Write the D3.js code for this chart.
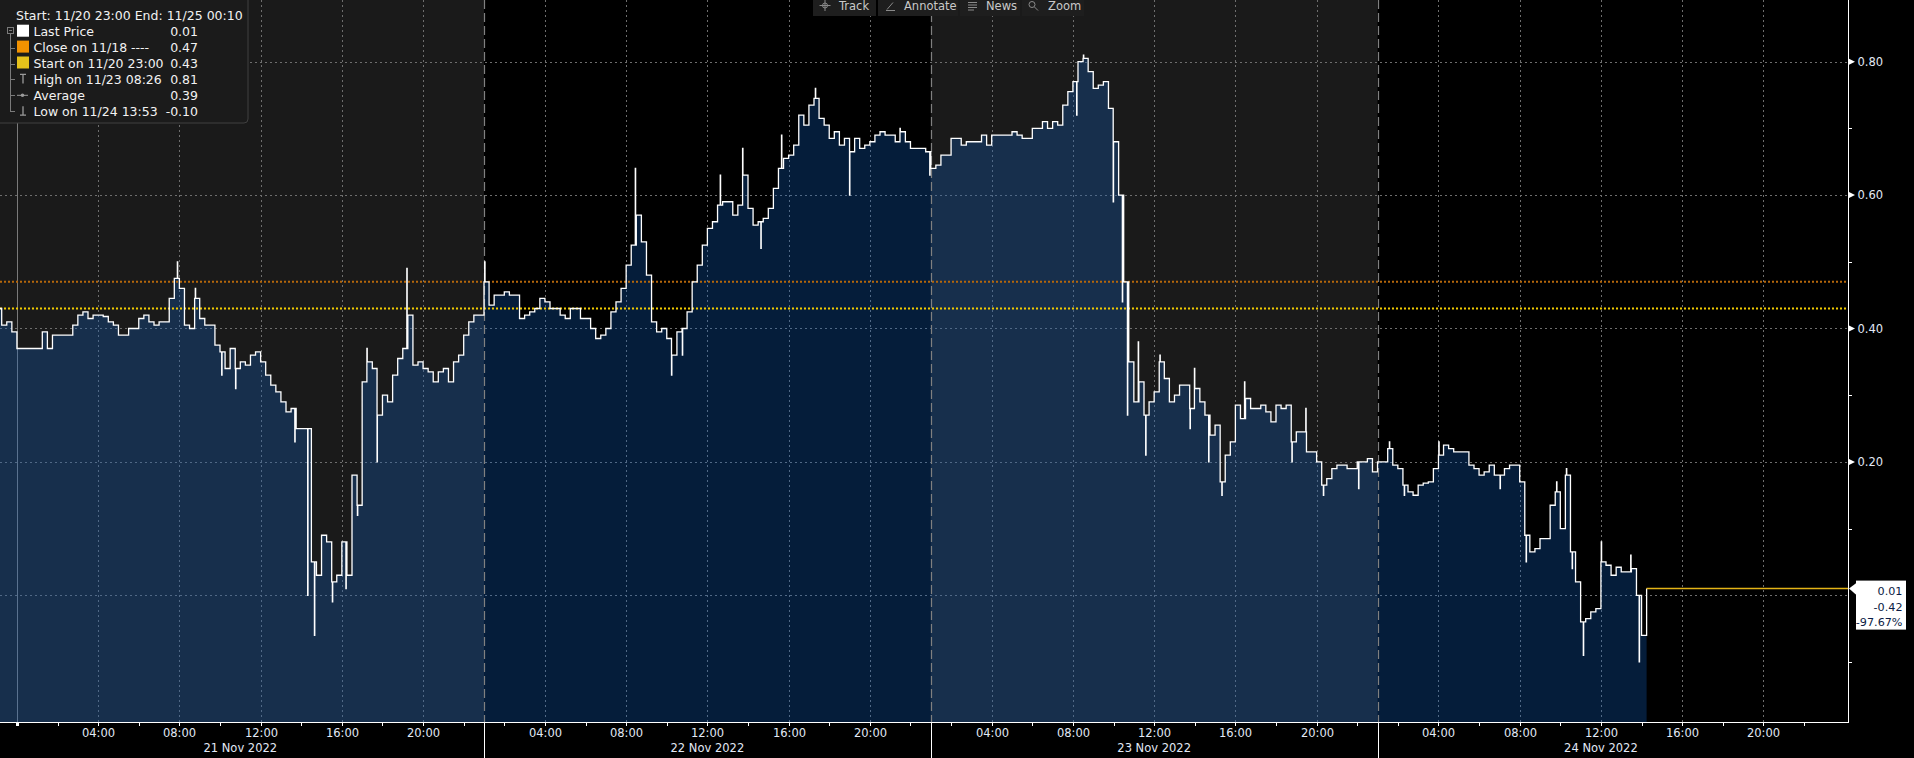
<!DOCTYPE html>
<html>
<head>
<meta charset="utf-8">
<script src="https://cdn.jsdelivr.net/npm/d3@7"></script>
<style>
html,body{margin:0;padding:0;background:#000;overflow:hidden}
svg{display:block}
text{font-family:"DejaVu Sans",sans-serif}
</style>
</head>
<body>
<svg id="chart" width="1914" height="758"></svg>
<script>
// ---------------- DATA ----------------
const sessionNames = ["21 Nov 2022", "22 Nov 2022", "23 Nov 2022", "24 Nov 2022"];
const sessionOpen = ["2022-11-20T23:00", "2022-11-22T01:00", "2022-11-23T01:00", "2022-11-24T01:00"];
const sessionClose = ["2022-11-21T23:00", "2022-11-22T23:00", "2022-11-23T23:00", "2022-11-25T00:10"];
const sessionLabelClose = ["2022-11-21T23:00", "2022-11-22T23:00", "2022-11-23T23:00", "2022-11-24T23:00"];
const viewStart = "2022-11-20T23:10";
const viewEnd = "2022-11-25T00:10";
const stepMinutes = 15;

// prices every 15 minutes from each session open
const pricesNov21 = [
  0.43, 0.405, 0.41, 0.395,
  0.37, 0.37, 0.37, 0.37, 0.37, 0.395, 0.37, 0.39,
  0.39, 0.39, 0.39, 0.405, 0.42, 0.425, 0.415, 0.42,
  0.42, 0.418, 0.41, 0.405, 0.39, 0.39, 0.40, 0.40,
  0.415, 0.42, 0.41, 0.405, 0.41, 0.41, 0.445, 0.475,
  0.46, 0.405, 0.40, 0.445, 0.415, 0.405, 0.405, 0.375,
  0.365, 0.34, 0.37, 0.34, 0.35, 0.345, 0.36, 0.365,
  0.35, 0.33, 0.315, 0.305, 0.29, 0.275, 0.28, 0.25,
  0.25, 0.25, 0.05, 0.03, 0.09, 0.08, 0.02, 0.03,
  0.08, 0.03, 0.18, 0.135, 0.32, 0.35, 0.34, 0.27,
  0.30, 0.29, 0.33, 0.355, 0.37, 0.42, 0.345, 0.35,
  0.34, 0.335, 0.32, 0.335, 0.34, 0.32, 0.35, 0.36,
  0.39, 0.41, 0.42, 0.42
];
const pricesNov22 = [
  0.47, 0.435, 0.45, 0.45, 0.455, 0.45, 0.45, 0.415,
  0.42, 0.425, 0.43, 0.445, 0.44, 0.43, 0.43, 0.42,
  0.415, 0.43, 0.43, 0.415, 0.415, 0.40, 0.385, 0.39,
  0.40, 0.425, 0.44, 0.46, 0.495, 0.525, 0.57, 0.53,
  0.48, 0.41, 0.395, 0.40, 0.385, 0.36, 0.395, 0.40,
  0.425, 0.47, 0.495, 0.525, 0.55, 0.56, 0.585, 0.59,
  0.59, 0.57, 0.585, 0.63, 0.58, 0.555, 0.56, 0.565,
  0.58, 0.61, 0.64, 0.655, 0.66, 0.675, 0.72, 0.705,
  0.735, 0.745, 0.715, 0.705, 0.685, 0.695, 0.675, 0.685,
  0.665, 0.685, 0.67, 0.675, 0.68, 0.69, 0.695, 0.69,
  0.69, 0.68, 0.695, 0.68, 0.67, 0.67, 0.67, 0.665
];
const pricesNov23 = [
  0.64, 0.645, 0.66, 0.66, 0.685, 0.685, 0.675, 0.68,
  0.68, 0.68, 0.69, 0.675, 0.69, 0.69, 0.69, 0.69,
  0.695, 0.69, 0.685, 0.685, 0.70, 0.70, 0.71, 0.70,
  0.71, 0.705, 0.735, 0.755, 0.77, 0.80, 0.805, 0.785,
  0.76, 0.765, 0.77, 0.73, 0.68, 0.60, 0.47, 0.35,
  0.29, 0.32, 0.27, 0.29, 0.305, 0.35, 0.325, 0.29,
  0.30, 0.315, 0.315, 0.28, 0.31, 0.29, 0.27, 0.24,
  0.255, 0.17, 0.21, 0.23, 0.285, 0.265, 0.295, 0.28,
  0.28, 0.285, 0.275, 0.26, 0.285, 0.28, 0.285, 0.23,
  0.245, 0.245, 0.215, 0.215, 0.20, 0.165, 0.175, 0.19,
  0.195, 0.195, 0.19, 0.19, 0.20, 0.20, 0.205, 0.185
];
const pricesNov24 = [
  0.20, 0.20, 0.22, 0.195, 0.19, 0.165, 0.155, 0.15,
  0.165, 0.168, 0.17, 0.19, 0.21, 0.225, 0.22, 0.215,
  0.215, 0.215, 0.195, 0.19, 0.18, 0.185, 0.195, 0.18,
  0.18, 0.19, 0.195, 0.195, 0.17, 0.09, 0.065, 0.07,
  0.085, 0.085, 0.135, 0.155, 0.10, 0.18, 0.065, 0.02,
  -0.04, -0.035, -0.025, -0.02, 0.05, 0.045, 0.03, 0.042,
  0.035, 0.035, 0.04, 0.0, -0.06, 0.01
];
const sessionPrices = [pricesNov21, pricesNov22, pricesNov23, pricesNov24];

// short one-minute excursions
const spikeTimes = [
  "2022-11-21T07:54", "2022-11-21T08:47", "2022-11-21T10:05", "2022-11-21T10:46", "2022-11-21T13:41",
  "2022-11-21T14:19", "2022-11-21T14:39", "2022-11-21T15:32", "2022-11-21T16:12", "2022-11-21T16:46",
  "2022-11-21T17:14", "2022-11-21T17:44", "2022-11-21T19:12",
  "2022-11-22T01:02", "2022-11-22T08:27", "2022-11-22T10:14", "2022-11-22T10:46", "2022-11-22T12:38",
  "2022-11-22T13:44", "2022-11-22T14:38", "2022-11-22T15:39", "2022-11-22T17:19", "2022-11-22T19:00",
  "2022-11-22T21:29", "2022-11-22T22:57",
  "2022-11-23T08:11", "2022-11-23T08:31", "2022-11-23T09:59", "2022-11-23T10:26", "2022-11-23T10:41",
  "2022-11-23T11:13", "2022-11-23T11:35", "2022-11-23T12:17", "2022-11-23T13:46", "2022-11-23T13:59",
  "2022-11-23T14:41", "2022-11-23T15:20", "2022-11-23T16:27", "2022-11-23T18:47", "2022-11-23T19:28",
  "2022-11-23T20:20", "2022-11-23T22:04",
  "2022-11-24T01:35", "2022-11-24T02:19", "2022-11-24T04:01", "2022-11-24T07:02", "2022-11-24T08:19",
  "2022-11-24T09:49", "2022-11-24T10:18", "2022-11-24T10:35", "2022-11-24T11:08", "2022-11-24T12:01",
  "2022-11-24T13:28", "2022-11-24T13:53"
];
const spikeValues = [
  0.50, 0.46, 0.33, 0.31, 0.23,
  0.00, -0.06, -0.01, 0.01, 0.12,
  0.37, 0.20, 0.49,
  0.50, 0.64, 0.33, 0.36, 0.63,
  0.67, 0.52, 0.69, 0.76, 0.60,
  0.70, 0.63,
  0.72, 0.81, 0.59, 0.44, 0.27,
  0.38, 0.21, 0.36, 0.25, 0.34,
  0.20, 0.15, 0.32, 0.20, 0.28,
  0.15, 0.16,
  0.23, 0.15, 0.23, 0.16, 0.05,
  0.17, 0.19, 0.04, -0.09, 0.08,
  0.06, -0.10
];

const lastPrice = 0.01;
const closePrev = 0.47;
const startPrice = 0.43;

const legendHeader = "Start: 11/20 23:00 End: 11/25 00:10";
const legendLabels = ["Last Price", "Close on 11/18 ----", "Start on 11/20 23:00", "High on 11/23 08:26", "Average", "Low on 11/24 13:53"];
const legendValues = ["0.01", "0.47", "0.43", "0.81", "0.39", "-0.10"];
const legendIcons = ["square", "square", "square", "high", "avg", "low"];
const legendColors = ["#ffffff", "#f39200", "#e6c21b", "#9a9a9a", "#9a9a9a", "#9a9a9a"];

const yDomain = [-0.19, 0.8925];
const yLabelTicks = [0.2, 0.4, 0.6, 0.8];
const yMinorTicks = [-0.1, 0.1, 0.3, 0.5, 0.7];
const yGridTicks = [0.0, 0.2, 0.4, 0.6, 0.8];

const toolbarLabels = ["Track", "Annotate", "News", "Zoom"];

// ---------------- SETUP ----------------
const W = 1914, H = 758, plotR = 1848, plotB = 722;
const parse = d3.timeParse("%Y-%m-%dT%H:%M");
const loc = d3.formatLocale({ decimal: ".", thousands: ",", grouping: [3], currency: ["", ""], minus: "-" });
const f2 = loc.format(".2f");
const sessions = sessionOpen.map((o, i) => ({
  open: parse(o), close: parse(sessionClose[i]), labelClose: parse(sessionLabelClose[i]), name: sessionNames[i]
}));
let acc = 0;
sessions.forEach(s => { s.offset = acc; acc += (s.close - s.open) / 3600000; });
function tradeHours(d) {
  for (const s of sessions) {
    if (d >= s.open && d <= s.close) return s.offset + (d - s.open) / 3600000;
  }
  if (d < sessions[0].open) return (d - sessions[0].open) / 3600000;
  return acc;
}
function baseValue(d) {
  for (let i = 0; i < sessions.length; i++) {
    const s = sessions[i];
    if (d >= s.open && d <= s.close) {
      const k = Math.min(sessionPrices[i].length - 1, Math.floor((d - s.open) / (stepMinutes * 60000)));
      return sessionPrices[i][k];
    }
  }
  return lastPrice;
}

const x = d3.scaleLinear().domain([tradeHours(parse(viewStart)), tradeHours(parse(viewEnd))]).range([0, plotR]);
const y = d3.scaleLinear().domain(yDomain).range([plotB, 0]);

const data = [];
sessions.forEach((s, i) => {
  sessionPrices[i].forEach((v, k) => {
    const t = new Date(s.open.getTime() + k * stepMinutes * 60000);
    data.push({ t, h: tradeHours(t), v });
  });
});
spikeTimes.forEach((ts, i) => {
  const t = parse(ts);
  const t2 = new Date(t.getTime() + 60000);
  data.push({ t, h: tradeHours(t), v: spikeValues[i] });
  data.push({ t: t2, h: tradeHours(t2), v: baseValue(t2) });
});
data.sort((a, b) => a.h - b.h);

const svg = d3.select("#chart");
svg.append("rect").attr("width", W).attr("height", H).attr("fill", "#000");

const defs = svg.append("defs");
defs.append("clipPath").attr("id", "plotclip").append("rect")
  .attr("x", 0).attr("y", 0).attr("width", plotR).attr("height", plotB);

const plot = svg.append("g").attr("clip-path", "url(#plotclip)");

// alternating day bands
sessions.forEach((s, i) => {
  if (i % 2 === 0) {
    plot.append("rect")
      .attr("x", x(tradeHours(s.open))).attr("y", 0)
      .attr("width", x(tradeHours(s.close)) - x(tradeHours(s.open)))
      .attr("height", plotB).attr("fill", "#1a1a1a");
  }
});

// x ticks
const xTicks = [];
sessions.forEach((s, i) => {
  let t = new Date(s.open); t.setMinutes(0, 0, 0);
  while (t < s.labelClose) {
    if (t >= s.open && t.getHours() % 2 === 0) xTicks.push({ date: new Date(t), hour: t.getHours(), session: i });
    t = new Date(t.getTime() + 3600000);
  }
});
const fmtHM = d3.timeFormat("%H:%M");

// grid
const grid = plot.append("g").attr("shape-rendering", "crispEdges");
yGridTicks.forEach(v => {
  grid.append("line").attr("x1", 0).attr("x2", plotR)
    .attr("y1", Math.round(y(v)) + 0.5).attr("y2", Math.round(y(v)) + 0.5)
    .attr("stroke", "#6e6e6e").attr("stroke-width", 1).attr("stroke-dasharray", "2,3");
});
xTicks.forEach(tk => {
  const px = Math.round(x(tradeHours(tk.date))) + 0.5;
  if (tk.hour === 0) {
    grid.append("line").attr("x1", px).attr("x2", px).attr("y1", 0).attr("y2", plotB)
      .attr("stroke", "#7a7a7a").attr("stroke-width", 1);
  } else if (tk.hour % 4 === 0) {
    grid.append("line").attr("x1", px).attr("x2", px).attr("y1", 0).attr("y2", plotB)
      .attr("stroke", "#6e6e6e").attr("stroke-width", 1).attr("stroke-dasharray", "2,3");
  }
});

// area
const area = d3.area().x(d => x(d.h)).y0(plotB).y1(d => y(d.v)).curve(d3.curveStepAfter);
plot.append("path").datum(data).attr("d", area).attr("fill", "rgba(18,96,192,0.30)");

// session separators
sessions.slice(1).forEach(s => {
  const px = Math.round(x(tradeHours(s.open))) + 0.5;
  plot.append("line").attr("x1", px).attr("x2", px).attr("y1", 0).attr("y2", plotB)
    .attr("stroke", "#808080").attr("stroke-width", 1.2).attr("stroke-dasharray", "9,4");
});

// reference lines
plot.append("line").attr("x1", 0).attr("x2", plotR).attr("y1", y(closePrev)).attr("y2", y(closePrev))
  .attr("stroke", "#b5670b").attr("stroke-width", 2).attr("stroke-dasharray", "2,2");
plot.append("line").attr("x1", 0).attr("x2", plotR).attr("y1", y(startPrice)).attr("y2", y(startPrice))
  .attr("stroke", "#f2cc00").attr("stroke-width", 2).attr("stroke-dasharray", "2,2");

// price line
const line = d3.line().x(d => x(d.h)).y(d => y(d.v)).curve(d3.curveStepAfter);
plot.append("path").datum(data).attr("d", line).attr("fill", "none")
  .attr("stroke", "#ffffff").attr("stroke-width", 1.3);

// last price line
const lastPt = data[data.length - 1];
plot.append("line").attr("x1", x(lastPt.h)).attr("x2", plotR).attr("y1", y(lastPrice)).attr("y2", y(lastPrice))
  .attr("stroke", "#e3b417").attr("stroke-width", 1.5);

// ---------------- AXES ----------------
const axisColor = "#ffffff";
const labelColor = "#e2e9f6";
const ax = svg.append("g").attr("shape-rendering", "crispEdges");
ax.append("line").attr("x1", 0).attr("x2", plotR + 0.5).attr("y1", plotB + 0.5).attr("y2", plotB + 0.5)
  .attr("stroke", axisColor).attr("stroke-width", 1.5);
ax.append("line").attr("x1", plotR + 0.5).attr("x2", plotR + 0.5).attr("y1", 0).attr("y2", plotB + 0.5)
  .attr("stroke", axisColor).attr("stroke-width", 1.5);

xTicks.forEach(tk => {
  const px = Math.round(x(tradeHours(tk.date))) + 0.5;
  if (tk.hour === 0) {
    ax.append("rect").attr("x", px - 1.5).attr("y", plotB + 1).attr("width", 3).attr("height", 3).attr("fill", axisColor);
  } else {
    ax.append("line").attr("x1", px).attr("x2", px).attr("y1", plotB).attr("y2", plotB + 4)
      .attr("stroke", axisColor).attr("stroke-width", 1);
  }
  if (tk.hour % 4 === 0 && tk.hour !== 0) {
    svg.append("text").attr("x", px).attr("y", 736.5).attr("text-anchor", "middle")
      .attr("font-size", "11.5px").attr("fill", labelColor).text(fmtHM(tk.date));
  }
});
sessions.slice(1).forEach(s => {
  const px = Math.round(x(tradeHours(s.open))) + 0.5;
  ax.append("line").attr("x1", px).attr("x2", px).attr("y1", plotB).attr("y2", H)
    .attr("stroke", axisColor).attr("stroke-width", 1.5);
});
sessions.forEach(s => {
  const mid = (x(tradeHours(s.open)) + x(tradeHours(s.labelClose))) / 2;
  svg.append("text").attr("x", mid).attr("y", 752).attr("text-anchor", "middle")
    .attr("font-size", "11.5px").attr("fill", labelColor).text(s.name);
});

// y axis
yMinorTicks.concat(yLabelTicks).forEach(v => {
  const py = Math.round(y(v)) + 0.5;
  ax.append("line").attr("x1", plotR).attr("x2", plotR + 4).attr("y1", py).attr("y2", py)
    .attr("stroke", axisColor).attr("stroke-width", 1);
});
yLabelTicks.forEach(v => {
  const py = y(v);
  svg.append("path").attr("d", `M${plotR},${py - 3.5}L${plotR + 7},${py}L${plotR},${py + 3.5}Z`).attr("fill", axisColor);
  svg.append("text").attr("x", plotR + 9.5).attr("y", py + 4.2).attr("font-size", "11.5px")
    .attr("fill", labelColor).text(f2(v));
});

// last price tag
const change = lastPrice - startPrice;
const pct = change / startPrice * 100;
const tagLines = [f2(lastPrice), f2(change), f2(pct) + "%"];
const ty = y(lastPrice);
const tag = svg.append("g");
tag.append("rect").attr("x", 1856).attr("y", ty - 8).attr("width", 50).attr("height", 49).attr("fill", "#ffffff");
tag.append("path").attr("d", `M${plotR + 1},${ty}L1857,${ty - 6}L1857,${ty + 7}Z`).attr("fill", "#ffffff");
tagLines.forEach((t, i) => {
  tag.append("text").attr("x", 1902.5).attr("y", ty + 6.5 + i * 15.5).attr("text-anchor", "end")
    .attr("font-size", "11.2px").attr("fill", "#0b1c45").text(t);
});

// ---------------- LEGEND ----------------
const lg = svg.append("g");
lg.append("path").attr("d", "M-1,-1H248V119Q248,123 244,123H-1Z").attr("fill", "#1b1b1b")
  .attr("stroke", "#404040").attr("stroke-width", 1);
lg.append("text").attr("x", 16).attr("y", 19.5).attr("font-size", "12.5px").attr("fill", "#f2f2f2").text(legendHeader);
const rowY = i => 31.7 + i * 15.9;
const tree = lg.append("g").attr("stroke", "#7a7a7a").attr("stroke-width", 1).attr("shape-rendering", "crispEdges");
tree.append("rect").attr("x", 7.5).attr("y", 27.5).attr("width", 6).attr("height", 6).attr("fill", "none");
tree.append("line").attr("x1", 9).attr("x2", 12).attr("y1", 30.5).attr("y2", 30.5);
tree.append("line").attr("x1", 10.5).attr("x2", 10.5).attr("y1", 34).attr("y2", rowY(5) + 0.5);
for (let i = 1; i < 6; i++) {
  tree.append("line").attr("x1", 10.5).attr("x2", 15).attr("y1", Math.round(rowY(i)) + 0.5).attr("y2", Math.round(rowY(i)) + 0.5);
}
legendLabels.forEach((lab, i) => {
  const cy = rowY(i);
  const ic = legendIcons[i];
  if (ic === "square") {
    lg.append("rect").attr("x", 17).attr("y", cy - 7).attr("width", 12).attr("height", 12).attr("fill", legendColors[i]);
  } else if (ic === "high") {
    lg.append("path").attr("d", `M20,${cy - 5}H26M23,${cy - 5}V${cy + 4}`).attr("stroke", legendColors[i]).attr("stroke-width", 1.3).attr("fill", "none");
  } else if (ic === "avg") {
    lg.append("path").attr("d", `M17,${cy}H28`).attr("stroke", legendColors[i]).attr("stroke-width", 1);
    lg.append("circle").attr("cx", 22.5).attr("cy", cy).attr("r", 1.8).attr("fill", legendColors[i]);
  } else if (ic === "low") {
    lg.append("path").attr("d", `M23,${cy - 5}V${cy + 4}M20,${cy + 4}H26`).attr("stroke", legendColors[i]).attr("stroke-width", 1.3).attr("fill", "none");
  }
  lg.append("text").attr("x", 33.5).attr("y", cy + 4.5).attr("font-size", "12.5px").attr("fill", "#f2f2f2").text(lab);
  lg.append("text").attr("x", 198).attr("y", cy + 4.5).attr("text-anchor", "end").attr("font-size", "12.5px").attr("fill", "#f2f2f2").text(legendValues[i]);
});

// ---------------- TOOLBAR ----------------
const tb = svg.append("g");
const btnX = [813, 878, 960, 1022];
const btnW = [63, 80, 60, 62];
const txtX = [839, 904, 986, 1048];
toolbarLabels.forEach((t, i) => {
  tb.append("rect").attr("x", btnX[i]).attr("y", 0).attr("width", btnW[i]).attr("height", 16).attr("fill", "#1e1e1e");
  tb.append("text").attr("x", txtX[i]).attr("y", 10).attr("font-size", "11.5px").attr("fill", "#c9c9c9").text(t);
});
const ic = tb.append("g").attr("stroke", "#8a8a8a").attr("fill", "none").attr("stroke-width", 1);
ic.append("circle").attr("cx", 825).attr("cy", 5.5).attr("r", 2.5);
ic.append("path").attr("d", "M825,0V11M819.5,5.5H830.5");
ic.append("path").attr("d", "M887,9.5L893,2.5M886,10.5H895");
ic.append("path").attr("d", "M968,2.5H977M968,5H977M968,7.5H977M968,10H974");
ic.append("circle").attr("cx", 1032).attr("cy", 4.5).attr("r", 3);
ic.append("path").attr("d", "M1034.5,7L1038,10.5");
</script>
</body>
</html>
